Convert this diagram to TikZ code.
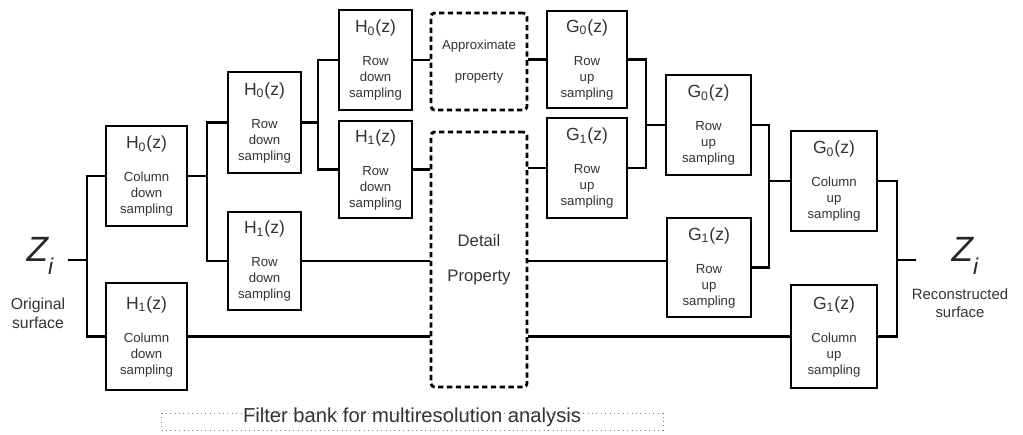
\documentclass[tikz,border=0pt]{standalone}
\usepackage{fontspec}
\setmainfont{Liberation Sans}
\usetikzlibrary{calc}
\tikzset{
	filt/.style={draw,line width=1.6pt,align=center,inner sep=0pt,text=black!80,font=\fontsize{7.5}{9}\selectfont},
	prop/.style={draw,line width=1.6pt,dash pattern=on 3pt off 2pt,rounded corners=2pt,align=center,inner sep=0pt,text=black!80},
	wire/.style={line width=1.6pt},
	zlabel/.style={font=\fontsize{20}{24}\selectfont\itshape,text=black!85,inner sep=0pt},
	surf/.style={align=center,font=\fontsize{8.5}{10.5}\selectfont,text=black!80,inner sep=0pt}
}
\newcommand{\Head}[2]{{\fontsize{10}{12}\selectfont #1\textsubscript{#2}(z)}\\[10pt]}
\newcommand{\Filter}[7]{
	% name, x, y, width, height, head, text
	\node[filt,minimum width=#4*0.02cm,minimum height=#5*0.02cm] (#1) at (#2,#3) {#6#7};
}
\begin{document}
\begin{tikzpicture}[x=0.02cm,y=-0.02cm]
\useasboundingbox (0,0) rectangle (1023,434);
%analysis
\Filter{hc0}{146.5}{176}{81}{100}{\Head{H}{0}}{Column\\down\\sampling}
\Filter{hc1}{146.5}{336.5}{81}{107}{\Head{H}{1}}{Column\\down\\sampling}
\Filter{hr0}{264.5}{122.5}{73}{101}{\Head{H}{0}}{Row\\down\\sampling}
\Filter{hr1}{264.5}{261}{73}{98}{\Head{H}{1}}{Row\\down\\sampling}
\Filter{hh0}{375.5}{60}{73}{100}{\Head{H}{0}}{Row\\down\\sampling}
\Filter{hh1}{375.5}{169.5}{73}{97}{\Head{H}{1}}{Row\\down\\sampling}
%properties
\node[prop,minimum width=96*0.02cm,minimum height=97*0.02cm,font=\fontsize{7.5}{9}\selectfont] (ap) at (479,61.5) {Approximate\\[9pt]property};
\node[prop,minimum width=96*0.02cm,minimum height=255*0.02cm,font=\fontsize{9.5}{11}\selectfont] (dt) at (479,259.5) {Detail\\[9pt]Property};
%synthesis
\Filter{gg0}{587}{59.5}{80}{97}{\Head{G}{0}}{Row\\up\\sampling}
\Filter{gg1}{587}{168}{80}{100}{\Head{G}{1}}{Row\\up\\sampling}
\Filter{gr0}{708.5}{125}{85}{100}{\Head{G}{0}}{Row\\up\\sampling}
\Filter{gr1}{709}{267.5}{84}{99}{\Head{G}{1}}{Row\\up\\sampling}
\Filter{gc0}{834}{181}{86}{100}{\Head{G}{0}}{Column\\up\\sampling}
\Filter{gc1}{834}{336.5}{86}{103}{\Head{G}{1}}{Column\\up\\sampling}
%surfaces
\node[zlabel] (zl) at (40,256) {Z\raisebox{-7pt}{\fontsize{13}{15}\selectfont i}};
\node[surf,font=\fontsize{9}{11}\selectfont] (orig) at (38,313) {Original\\surface};
\node[zlabel] (zr) at (965,256) {Z\raisebox{-7pt}{\fontsize{13}{15}\selectfont i}};
\node[surf] (recon) at (960,303) {Reconstructed\\surface};
%wires
\coordinate (s0) at (68,260);
\coordinate (s1) at (87,260);
\draw[wire] (s0) -- (s1);
\draw[wire] (hc0.west) -| (s1) |- (hc1.west);
\coordinate (s2) at (207,176);
\draw[wire] (hc0.east) -- (s2);
\draw[wire] (hr0.west) -| (s2) |- (hr1.west);
\coordinate (s3) at (318,122.5);
\draw[wire] (hr0.east) -- (s3);
\draw[wire] (hh0.west) -| (s3) |- (hh1.west);
\draw[wire] (hh0.east) -- (hh0.east -| ap.west);
\draw[wire] (hh1.east) -- (hh1.east -| dt.west);
\draw[wire] (hr1.east) -- (hr1.east -| dt.west);
\draw[wire] (hc1.east) -- (hc1.east -| dt.west);
\draw[wire] (gg0.west -| ap.east) -- (gg0.west);
\draw[wire] (gg1.west -| dt.east) -- (gg1.west);
\draw[wire] (hr1.east -| dt.east) -- (hr1.east -| gr1.west);
\draw[wire] (hc1.east -| dt.east) -- (hc1.east -| gc1.west);
\coordinate (s4) at (646,125);
\draw[wire] (gg0.east) -| (s4) |- (gg1.east);
\draw[wire] (s4) -- (gr0.west);
\coordinate (s5) at (769,181);
\draw[wire] (gr0.east) -| (s5) |- (gr1.east);
\draw[wire] (s5) -- (gc0.west);
\coordinate (s6) at (897,260);
\coordinate (s7) at (916,260);
\draw[wire] (gc0.east) -| (s6) |- (gc1.east);
\draw[wire] (s6) -- (s7);
%caption
\draw[gray,dotted,line width=0.5pt] (161,413) rectangle (663,430);
\node[font=\fontsize{11.5}{13}\selectfont,text=black!80,inner sep=0pt] (cap) at (412,417) {Filter bank for multiresolution analysis};
\end{tikzpicture}
\end{document}
